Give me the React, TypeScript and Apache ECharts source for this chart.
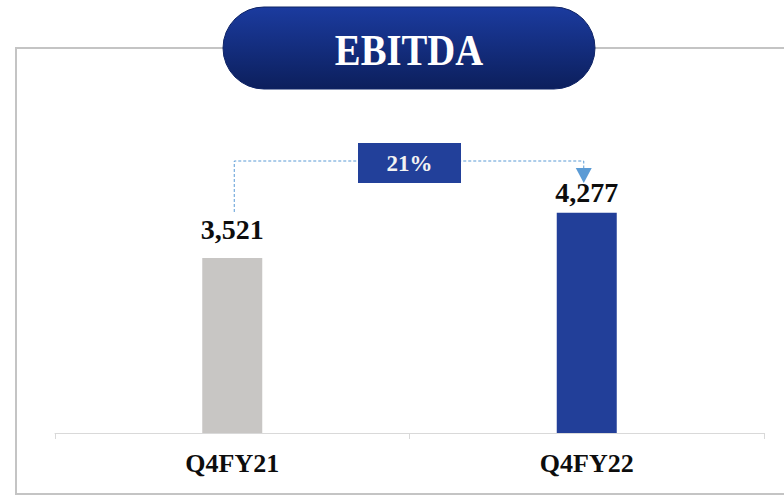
import React, { useEffect, useRef } from "react";
import * as echarts from "echarts";

const categories = ["Q4FY21", "Q4FY22"];
const ebitdaValues = [3521, 4277];
const barColors = ["#c8c6c4", "#223f99"];
const labelGaps = [14, 6];
const titleText = "EBITDA";

export default function App() {
  const ref = useRef<HTMLDivElement>(null);
  useEffect(() => {
    if (!ref.current) return;
    const chart = echarts.init(ref.current, undefined, { renderer: "svg" });
    const serif = "'Liberation Serif', 'DejaVu Serif', serif";
    const growth = Math.round((ebitdaValues[1] / ebitdaValues[0] - 1) * 100) + "%";

    const baseOption: any = {
      animation: false,
      backgroundColor: "#ffffff",
      grid: { left: 55, right: 20, bottom: 63, top: 151.4 },
      xAxis: {
        type: "category",
        data: categories,
        boundaryGap: true,
        axisLine: { show: true, lineStyle: { color: "#d9d9d9", width: 1 } },
        axisTick: { show: true, length: 6, lineStyle: { color: "#d9d9d9" } },
        axisLabel: {
          margin: 17,
          color: "#0d0d0d",
          fontFamily: serif,
          fontWeight: "bold",
          fontSize: 26,
        },
      },
      yAxis: {
        type: "value",
        min: 600,
        max: 5300,
        show: false,
        splitLine: { show: false },
      },
      series: [
        {
          type: "bar",
          barWidth: 60,
          data: ebitdaValues.map((v, i) => ({
            value: v,
            itemStyle: { color: barColors[i] },
            label: { distance: labelGaps[i] },
          })),
          label: {
            show: true,
            position: "top",
            color: "#0d0d0d",
            fontFamily: serif,
            fontWeight: "bold",
            fontSize: 28,
            formatter: (p: any) => p.value.toLocaleString("en-US"),
          },
        },
      ],
    };
    chart.setOption(baseOption);

    const p1 = chart.convertToPixel({ seriesIndex: 0 }, [0, ebitdaValues[0]]) as number[];
    const p2 = chart.convertToPixel({ seriesIndex: 0 }, [1, ebitdaValues[1]]) as number[];
    const lx = p1[0] + 2;
    const rx = p2[0] - 3;
    const topY = 161;
    const lineColor = "#5b9bd5";
    const boxCx = (lx + rx) / 2;

    chart.setOption({
      graphic: [
        {
          type: "rect",
          silent: true,
          shape: { x: 16, y: 48, width: 820, height: 446 },
          style: { fill: "none", stroke: "#c4c4c4", lineWidth: 2 },
          z: 1,
        },
        {
          type: "rect",
          silent: true,
          shape: { x: 223, y: 7, width: 372, height: 82, r: 41 },
          style: {
            fill: new echarts.graphic.LinearGradient(0, 0, 0, 1, [
              { offset: 0, color: "#1b3b9f" },
              { offset: 1, color: "#0c1f5c" },
            ]),
            stroke: "#0f2466",
            lineWidth: 1,
          },
          z: 10,
        },
        {
          type: "text",
          silent: true,
          x: 409,
          y: 50,
          scaleX: 0.86,
          style: {
            text: titleText,
            fill: "#ffffff",
            font: "bold 45px " + serif,
            align: "center",
            verticalAlign: "middle",
          },
          z: 11,
        },
        {
          type: "polyline",
          silent: true,
          shape: { points: [[lx, p1[1] - 46], [lx, topY], [rx, topY], [rx, 169]] },
          style: { stroke: lineColor, lineWidth: 1, lineDash: [3, 2], fill: "none" },
          z: 5,
        },
        {
          type: "polygon",
          silent: true,
          shape: { points: [[rx - 8, 168], [rx + 8, 168], [rx, 183]] },
          style: { fill: lineColor },
          z: 5,
        },
        {
          type: "rect",
          silent: true,
          shape: { x: boxCx - 51, y: 143, width: 103, height: 40 },
          style: { fill: "#22409a" },
          z: 6,
        },
        {
          type: "text",
          silent: true,
          x: boxCx + 0.5,
          y: 163,
          style: {
            text: growth,
            fill: "#f2f2f2",
            font: "bold 23px " + serif,
            align: "center",
            verticalAlign: "middle",
          },
          z: 7,
        },
      ],
    });

    return () => chart.dispose();
  }, []);
  return (
    <div
      ref={ref}
      style={{ position: "absolute", left: 0, top: 0, width: 784, height: 496 }}
    />
  );
}
